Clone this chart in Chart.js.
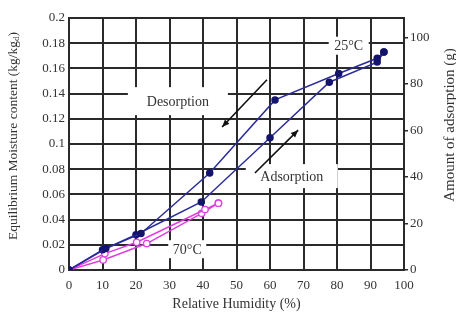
<!DOCTYPE html>
<html>
<head>
<meta charset="utf-8">
<script src="https://cdn.jsdelivr.net/npm/chart.js@4"></script>
<style>
  html, body { margin: 0; padding: 0; background: #fff; }
  #chart { display: block; }
</style>
</head>
<body>
<canvas id="chart" width="456" height="320"></canvas>
<script>
// 25°C, desorption (upper branch)
const des25X = [94, 92, 80.5, 61.5, 42, 21.5, 11, 0];
const des25Y = [0.173, 0.168, 0.156, 0.135, 0.077, 0.029, 0.017, 0];
// 25°C, adsorption (lower branch)
const ads25X = [0, 10, 20, 39.5, 60, 77.7, 92, 94];
const ads25Y = [0, 0.016, 0.028, 0.054, 0.105, 0.149, 0.165, 0.173];
// 70°C
const des70X = [44.6, 40.6, 20.2, 10.7, 0];
const des70Y = [0.053, 0.048, 0.022, 0.013, 0];
const ads70X = [0, 10.2, 23.2, 39.6, 44.6];
const ads70Y = [0, 0.008, 0.021, 0.045, 0.053];

// axis ticks
const xTicks = [0, 10, 20, 30, 40, 50, 60, 70, 80, 90, 100];
const yTicks = [0, 0.02, 0.04, 0.06, 0.08, 0.1, 0.12, 0.14, 0.16, 0.18, 0.2];
const rightTicks = [0, 20, 40, 60, 80, 100];
const rightMax = 108.4;

const serif = "'Liberation Serif', 'DejaVu Serif', serif";
const ink = '#2a2a2a';

function pts(xs, ys) {
    return xs.map((x, i) => ({ x: x, y: ys[i] }));
}

// text labels + arrows, placed in data units
const labels = [
    { text: 'Desorption', x: 32.5, y: 0.134, w: 100, h: 28 },
    { text: 'Adsorption', x: 66.5, y: 0.0745, w: 92, h: 24 },
    { text: '25°C', x: 83.5, y: 0.178, w: 40, h: 18 },
    { text: '70°C', x: 35.3, y: 0.0165, w: 38, h: 18 }
];
const arrows = [
    { from: [59.1, 0.151], to: [45.7, 0.1135] },
    { from: [55.5, 0.077], to: [68.4, 0.111] }
];

const notesPlugin = {
    id: 'notes',
    beforeDatasetsDraw(chart) {
        const ctx = chart.ctx;
        const xs = chart.scales.x, ys = chart.scales.y;
        ctx.save();
        labels.forEach(l => {
            const cx = xs.getPixelForValue(l.x), cy = ys.getPixelForValue(l.y);
            ctx.fillStyle = '#fff';
            ctx.fillRect(cx - l.w / 2, cy - l.h / 2, l.w, l.h);
            ctx.fillStyle = '#333';
            ctx.font = '14px ' + serif;
            ctx.textAlign = 'center';
            ctx.textBaseline = 'middle';
            ctx.fillText(l.text, cx, cy + 1);
        });
        ctx.strokeStyle = '#111';
        ctx.fillStyle = '#111';
        ctx.lineWidth = 1.6;
        arrows.forEach(a => {
            const x1 = xs.getPixelForValue(a.from[0]), y1 = ys.getPixelForValue(a.from[1]);
            const x2 = xs.getPixelForValue(a.to[0]), y2 = ys.getPixelForValue(a.to[1]);
            ctx.beginPath();
            ctx.moveTo(x1, y1);
            ctx.lineTo(x2, y2);
            ctx.stroke();
            const ang = Math.atan2(y2 - y1, x2 - x1);
            ctx.beginPath();
            ctx.moveTo(x2, y2);
            ctx.lineTo(x2 - 8 * Math.cos(ang - 0.4), y2 - 8 * Math.sin(ang - 0.4));
            ctx.lineTo(x2 - 8 * Math.cos(ang + 0.4), y2 - 8 * Math.sin(ang + 0.4));
            ctx.closePath();
            ctx.fill();
        });
        ctx.restore();
    },
    afterDraw(chart) {
        // axis titles: both side ones read bottom-to-top, left one has a subscript
        const ctx = chart.ctx;
        ctx.save();
        ctx.fillStyle = '#333';
        ctx.textBaseline = 'middle';

        ctx.translate(13, 136);
        ctx.rotate(-Math.PI / 2);
        ctx.font = '13.5px ' + serif;
        const main = 'Equilibrium Moisture content (kg/kg';
        const wMain = ctx.measureText(main).width;
        ctx.font = '9px ' + serif;
        const wSub = ctx.measureText('d').width;
        ctx.font = '13.5px ' + serif;
        const wEnd = ctx.measureText(')').width;
        let start = -(wMain + wSub + wEnd) / 2;
        ctx.textAlign = 'left';
        ctx.fillText(main, start, 0);
        ctx.font = '9px ' + serif;
        ctx.fillText('d', start + wMain, 4);
        ctx.font = '13.5px ' + serif;
        ctx.fillText(')', start + wMain + wSub, 0);
        ctx.restore();

        ctx.save();
        ctx.fillStyle = '#333';
        ctx.textBaseline = 'middle';
        ctx.textAlign = 'center';
        ctx.translate(450, 125);
        ctx.rotate(-Math.PI / 2);
        ctx.font = '15px ' + serif;
        ctx.fillText('Amount of adsorption (g)', 0, 0);
        ctx.restore();

        ctx.save();
        ctx.fillStyle = '#333';
        ctx.textBaseline = 'middle';
        ctx.textAlign = 'center';
        ctx.font = '14px ' + serif;
        ctx.fillText('Relative Humidity (%)', (chart.chartArea.left + chart.chartArea.right) / 2, 304);
        ctx.restore();
    }
};

const blue = '#2b2b9a';
const blueDot = '#14146e';
const pink = '#e03ee0';

new Chart(document.getElementById('chart'), {
    type: 'line',
    data: {
        datasets: [
            {
                label: '25°C desorption',
                data: pts(des25X, des25Y),
                borderColor: blue,
                borderWidth: 1.5,
                pointBackgroundColor: blueDot,
                pointBorderColor: blueDot,
                pointRadius: 3
            },
            {
                label: '25°C adsorption',
                data: pts(ads25X, ads25Y),
                borderColor: blue,
                borderWidth: 1.5,
                pointBackgroundColor: blueDot,
                pointBorderColor: blueDot,
                pointRadius: 3
            },
            {
                label: '70°C desorption',
                data: pts(des70X, des70Y),
                borderColor: pink,
                borderWidth: 1.5,
                pointBackgroundColor: '#fff',
                pointBorderColor: pink,
                pointBorderWidth: 1.3,
                pointRadius: 3.2
            },
            {
                label: '70°C adsorption',
                data: pts(ads70X, ads70Y),
                borderColor: pink,
                borderWidth: 1.5,
                pointBackgroundColor: '#fff',
                pointBorderColor: pink,
                pointBorderWidth: 1.3,
                pointRadius: 3.2
            }
        ]
    },
    options: {
        responsive: false,
        animation: false,
        layout: { padding: { top: 18 } },
        plugins: {
            legend: { display: false },
            tooltip: { enabled: false }
        },
        scales: {
            x: {
                type: 'linear',
                min: 0,
                max: 100,
                afterBuildTicks: s => { s.ticks = xTicks.map(v => ({ value: v })); },
                afterFit: s => { s.height = 50; },
                ticks: {
                    font: { family: serif, size: 13 },
                    color: '#333',
                    padding: 8,
                    maxRotation: 0
                },
                grid: { color: ink, lineWidth: 2, tickLength: 0 },
                border: { color: ink, width: 2 }
            },
            y: {
                min: 0,
                max: 0.2,
                afterBuildTicks: s => { s.ticks = yTicks.map(v => ({ value: v })); },
                afterFit: s => { s.width = 69; },
                ticks: {
                    font: { family: serif, size: 13 },
                    color: '#333',
                    padding: 4,
                    callback: v => String(Math.round(v * 100) / 100)
                },
                grid: { color: ink, lineWidth: 2, tickLength: 0 },
                border: { color: ink, width: 2 }
            },
            y2: {
                position: 'right',
                min: 0,
                max: rightMax,
                afterBuildTicks: s => { s.ticks = rightTicks.map(v => ({ value: v })); },
                afterFit: s => { s.width = 52; },
                ticks: {
                    font: { family: serif, size: 13 },
                    color: '#333',
                    padding: 2
                },
                grid: { drawOnChartArea: false, color: ink, tickLength: 4, lineWidth: 1.5 },
                border: { color: ink, width: 2 }
            }
        }
    },
    plugins: [notesPlugin]
});
</script>
</body>
</html>
